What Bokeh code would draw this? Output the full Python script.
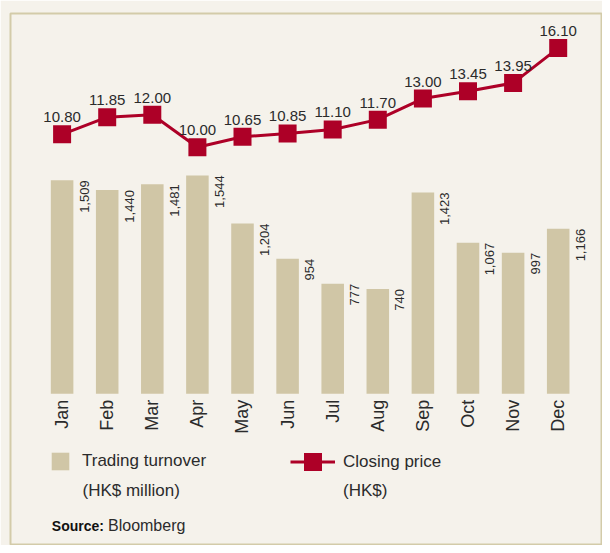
from math import pi

from bokeh.plotting import figure
from bokeh.models import (Range1d, ColumnDataSource, LabelSet, Legend, LegendItem,
                          FixedTicker, Label)
from bokeh.core.properties import value
from bokeh.embed import file_html
from bokeh.resources import INLINE

# ---------------- data ----------------
months = ["Jan", "Feb", "Mar", "Apr", "May", "Jun",
          "Jul", "Aug", "Sep", "Oct", "Nov", "Dec"]
turnover = [1509, 1440, 1481, 1544, 1204, 954, 777, 740, 1423, 1067, 997, 1166]
closing_price = [10.80, 11.85, 12.00, 10.00, 10.65, 10.85, 11.10, 11.70,
                 13.00, 13.45, 13.95, 16.10]

turnover_labels = [f"{v:,}" for v in turnover]
price_labels = [f"{v:.2f}" for v in closing_price]
xs = list(range(len(months)))

# ---------------- style ----------------
BG = "#f5f2eb"
BAR = "#d0c6a6"
RED = "#ad0027"
BORDER = "#d3cba9"
TXT = "#2b2b2b"
FONT = "Liberation Sans"

W, H = 602, 545
ML, MT = 10, 13          # frame offsets inside canvas (border box)

# pixel geometry of the category axis (canvas px)
x_first, x_step = 61.6, 45.1
x_start = (ML - x_first) / x_step
x_end = (W - x_first) / x_step

# bar value scale
base_px, px_per_unit = 393.2, 0.1414
y_top = (base_px - MT) / px_per_unit
y_bot = -(H - base_px) / px_per_unit

# price scale
p_ref_px, p_ref, px_per_hkd = 146.8, 10.0, 16.26
p_top = p_ref + (p_ref_px - MT) / px_per_hkd
p_bot = p_ref - (H - p_ref_px) / px_per_hkd

src = ColumnDataSource(dict(x=xs, month=months, turnover=turnover,
                            tlabel=turnover_labels, price=closing_price,
                            plabel=price_labels))

p = figure(width=W, height=H, output_backend="svg", toolbar_location=None,
           x_range=Range1d(x_start, x_end), y_range=Range1d(y_bot, y_top),
           y_axis_location=None,
           min_border_left=ML, min_border_top=MT, min_border_right=0,
           min_border_bottom=0,
           background_fill_color=BG, border_fill_color=BG,
           outline_line_color=BORDER, outline_line_width=2)
p.grid.visible = False
p.extra_y_ranges = {"price": Range1d(p_bot, p_top)}

# x axis fixed at the bar baseline
xa = p.xaxis[0]
xa.ticker = FixedTicker(ticks=xs)
xa.major_label_overrides = {i: m for i, m in zip(xs, months)}
xa.major_label_orientation = pi / 2
xa.fixed_location = 0
xa.axis_line_color = None
xa.major_tick_line_color = None
xa.minor_tick_line_color = None
xa.major_tick_out = 0
xa.major_tick_in = 0
xa.major_label_standoff = 6
xa.major_label_text_font_size = "18px"
xa.major_label_text_font = FONT
xa.major_label_text_color = TXT

bars = p.vbar(x="x", top="turnover", bottom=0, width=0.5, source=src,
              fill_color=BAR, line_color=None)

line_r = p.line(x="x", y="price", source=src, y_range_name="price",
                line_color=RED, line_width=3)
mark_r = p.scatter(x="x", y="price", source=src, y_range_name="price",
                   marker="square", size=18, fill_color=RED, line_color=None)

p.add_layout(LabelSet(x="x", y="turnover", text="tlabel", source=src,
                      angle=pi / 2, text_align="right", text_baseline="middle",
                      x_offset=22, text_font=value(FONT),
                      text_font_size=value("13px"), text_color=TXT))
p.add_layout(LabelSet(x="x", y="price", text="plabel", source=src,
                      y_range_name="price", text_align="center",
                      text_baseline="alphabetic", y_offset=12,
                      text_font=value(FONT), text_font_size=value("15px"),
                      text_color=TXT))

common = dict(orientation="horizontal", padding=0, margin=0,
              border_line_color=None, background_fill_alpha=0,
              label_text_font=FONT, label_text_font_size="17px",
              label_text_color=TXT, label_height=20)

leg1 = Legend(items=[LegendItem(label="Trading turnover", renderers=[bars])],
              location=(39, 73), glyph_width=22, glyph_height=22,
              label_standoff=11, **common)
leg2 = Legend(items=[LegendItem(label="Closing price",
                                renderers=[line_r, mark_r])],
              location=(280, 61), glyph_width=45, glyph_height=45,
              label_standoff=8, **common)
p.add_layout(leg1)
p.add_layout(leg2)

unit_style = dict(x_units="screen", y_units="screen", text_font=FONT,
                  text_font_size="17px", text_color=TXT,
                  text_baseline="alphabetic")
p.add_layout(Label(x=72, y=55, text="(HK$ million)", **unit_style))
p.add_layout(Label(x=332.5, y=55, text="(HK$)", **unit_style))

p.add_layout(Label(x=41.3, y=11.2, x_units="screen", y_units="screen",
                   text="Source:", text_font=FONT, text_font_size="14px",
                   text_font_style="bold", text_color="#111"))
p.add_layout(Label(x=97.5, y=11.2, x_units="screen", y_units="screen",
                   text="Bloomberg", text_font=FONT, text_font_size="16px",
                   text_color=TXT))

open("out.html", "w").write(file_html(p, INLINE))
